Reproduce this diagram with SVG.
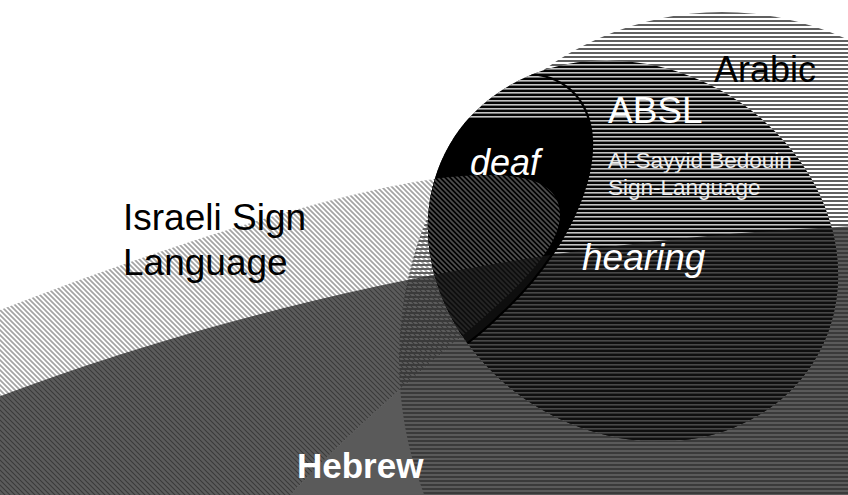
<svg xmlns="http://www.w3.org/2000/svg" width="848" height="495" viewBox="0 0 848 495">
<style>
text{font-family:"Liberation Sans",Arial,sans-serif}
.blk{fill:#000}
.wht{fill:#fff}
</style>
<defs>
<pattern id="arLight" patternUnits="userSpaceOnUse" width="8" height="4"><rect width="8" height="2" fill="#606060"/></pattern>
<pattern id="arDark" patternUnits="userSpaceOnUse" width="8" height="4"><rect width="8" height="2" fill="#3a3a3a"/></pattern>
<pattern id="absl" patternUnits="userSpaceOnUse" width="8" height="4"><rect width="8" height="1.6" fill="#c4c4c4"/></pattern>
<pattern id="islLight" patternUnits="userSpaceOnUse" width="5" height="5"><path d="M-1,-1 L6,6 M-1,4 L1,6 M4,-1 L6,1" stroke="#a3a3a3" stroke-width="1.7"/></pattern>
<pattern id="islDark" patternUnits="userSpaceOnUse" width="5" height="5"><path d="M-1,-1 L6,6 M-1,4 L1,6 M4,-1 L6,1" stroke="#3b3b3b" stroke-width="1.7"/></pattern>
<pattern id="islCircle" patternUnits="userSpaceOnUse" width="5" height="5"><path d="M-1,-1 L6,6 M-1,4 L1,6 M4,-1 L6,1" stroke="#4f4f4f" stroke-width="1.7"/></pattern>
<path id="hebShape" d="M -10,400 C 200,320 500,240 860,226 L 860,505 L -10,505 Z"/>
<path id="islShape" d="M -20,318 C 120,262 330,190 450,177 C 520,170 560,180 560,215 C 560,260 480,320 420,372 C 360,425 300,480 270,520 L -20,520 Z"/>
<path id="deafShape" d="M 525,74 C 560,74 590,95 592,140 C 594,190 560,260 500,315 C 485,330 470,342 455,352 L 380,352 L 380,40 L 525,40 Z"/>
<clipPath id="clipHeb"><use href="#hebShape"/></clipPath>
<clipPath id="clipCircle"><ellipse cx="633" cy="251" rx="212" ry="183" transform="rotate(30 633 251)"/></clipPath>
<clipPath id="clipBelow"><rect x="0" y="118" width="848" height="400"/></clipPath>
</defs>
<rect width="848" height="495" fill="#fff"/>
<g id="hebrew">
<use href="#hebShape" fill="#5a5a5a"/>
</g>
<g id="israeli-sign-language">
<use href="#islShape" fill="url(#islLight)"/>
<use href="#islShape" fill="url(#islDark)" clip-path="url(#clipHeb)"/>
</g>
<g id="arabic">
<ellipse cx="722" cy="360" rx="323" ry="348" fill="url(#arLight)"/>
<ellipse cx="722" cy="360" rx="323" ry="348" fill="url(#arDark)" clip-path="url(#clipHeb)"/>
</g>
<g id="absl" clip-path="url(#clipCircle)">
<rect x="400" y="50" width="448" height="400" fill="#050505"/>
<rect x="400" y="50" width="448" height="400" fill="url(#absl)"/>
<g id="deaf">
<g clip-path="url(#clipBelow)"><use href="#deafShape" fill="#000"/></g>
<use href="#islShape" fill="#000"/>
<use href="#islShape" fill="url(#islCircle)"/>
</g>
<use href="#hebShape" fill="#141414" fill-opacity="0.7"/>
<path d="M 525,74 C 560,74 590,95 592,140 C 594,190 560,260 500,315 C 485,330 470,342 455,352" fill="none" stroke="#000" stroke-width="2.2"/>
</g>
<g id="connectors"/>
<g id="labels">
<text x="714" y="82" font-size="36" class="blk">Arabic</text>
<text x="608" y="123" font-size="37" class="wht">ABSL</text>
<text x="608" y="168" font-size="22.5" fill="#eeeeee">Al-Sayyid Bedouin</text>
<text x="608" y="195" font-size="22.5" fill="#eeeeee">Sign-Language</text>
<text x="470" y="175" font-size="36" font-style="italic" class="wht">deaf</text>
<text x="582" y="270" font-size="37" font-style="italic" class="wht">hearing</text>
<text x="123" y="230" font-size="37" class="blk">Israeli Sign</text>
<text x="123" y="275" font-size="37" class="blk">Language</text>
<text x="297" y="478" font-size="35" font-weight="bold" class="wht">Hebrew</text>
</g>
</svg>
